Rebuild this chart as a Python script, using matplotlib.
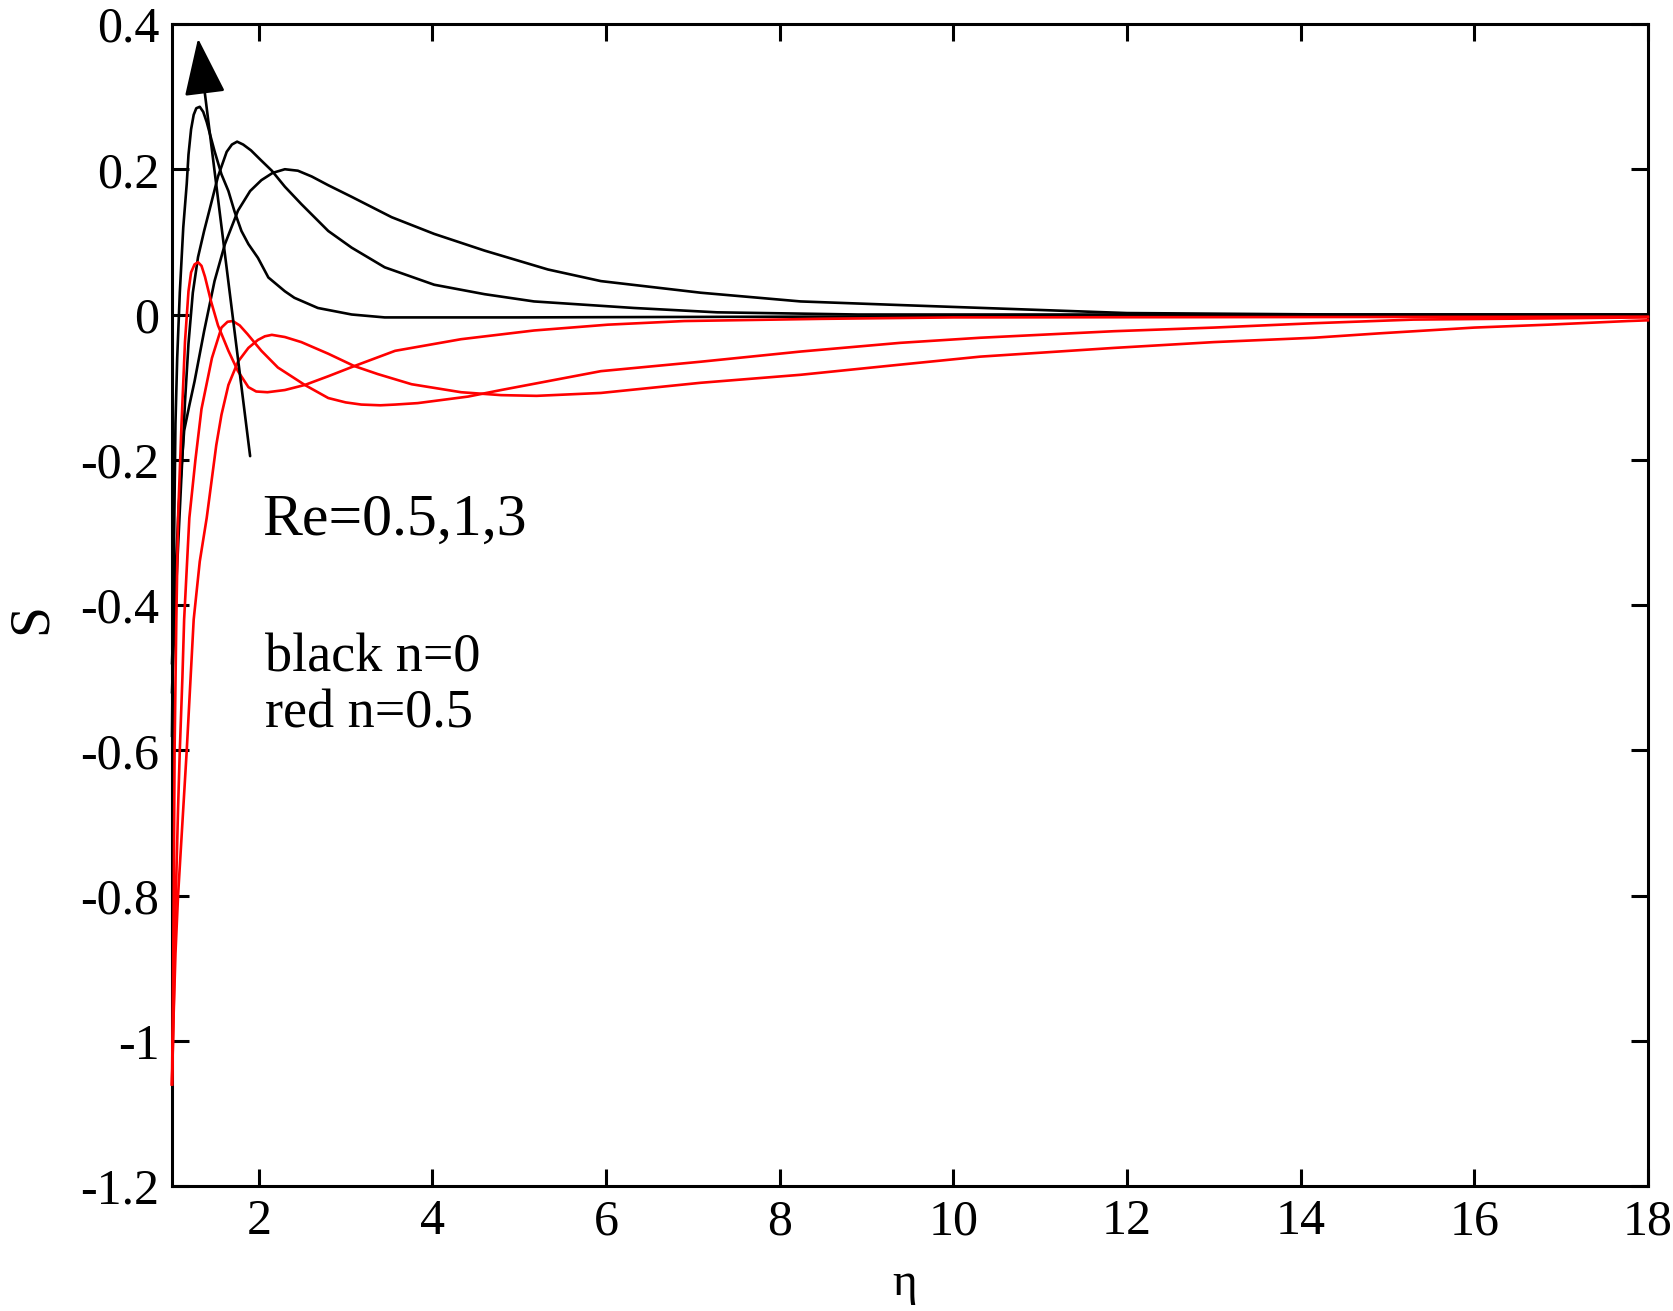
import matplotlib
matplotlib.use("Agg")
import matplotlib.pyplot as plt

# ---------------- data ----------------
# n = 0 (black), Re = 3, 1, 0.5
black_re3_x = [1.0, 1.02, 1.04, 1.06, 1.09, 1.13, 1.17, 1.19, 1.22, 1.25, 1.28, 1.32, 1.36, 1.40, 1.49, 1.57,
               1.65, 1.72, 1.80, 1.88, 1.99, 2.11, 2.30, 2.41, 2.68, 3.07, 3.45, 5.0, 8.0, 12.0, 18.0]
black_re3_y = [-0.58, -0.35, -0.15, -0.06, 0.03, 0.12, 0.18, 0.22, 0.255, 0.275, 0.284, 0.286, 0.279, 0.265, 0.225,
               0.193, 0.17, 0.142, 0.115, 0.097, 0.078, 0.051, 0.032, 0.023, 0.009, 0.0, -0.004, -0.004, -0.003,
               -0.002, -0.001]

black_re1_x = [1.0, 1.03, 1.07, 1.11, 1.15, 1.19, 1.24, 1.30, 1.37, 1.43, 1.53, 1.63, 1.69, 1.75, 1.82, 1.91,
               2.02, 2.15, 2.30, 2.49, 2.80, 3.07, 3.45, 4.02, 4.60, 5.17, 6.32, 7.28, 8.9, 12.0, 18.0]
black_re1_y = [-0.52, -0.42, -0.32, -0.22, -0.12, -0.04, 0.03, 0.079, 0.115, 0.143, 0.19, 0.224, 0.234, 0.238,
               0.234, 0.226, 0.213, 0.198, 0.176, 0.152, 0.115, 0.092, 0.065, 0.041, 0.028, 0.018, 0.009, 0.003,
               0.0, 0.0, 0.0]

black_re05_x = [1.0, 1.03, 1.08, 1.14, 1.20, 1.26, 1.37, 1.49, 1.61, 1.76, 1.90, 2.03, 2.16, 2.30, 2.45, 2.61,
                2.80, 3.07, 3.53, 4.02, 4.60, 5.33, 5.94, 7.09, 8.24, 9.39, 10.58, 12.0, 14.4, 18.0]
black_re05_y = [-0.48, -0.38, -0.26, -0.16, -0.125, -0.092, -0.023, 0.046, 0.097, 0.143, 0.170, 0.185, 0.195,
                0.200, 0.198, 0.19, 0.178, 0.162, 0.134, 0.111, 0.088, 0.062, 0.046, 0.030, 0.018, 0.013, 0.008,
                0.002, 0.0, 0.0]

# n = 0.5 (red), Re = 3, 1, 0.5
red_re3_x = [1.0, 1.01, 1.02, 1.03, 1.04, 1.05, 1.07, 1.11, 1.15, 1.19, 1.22, 1.26, 1.30, 1.34, 1.38, 1.45, 1.53,
             1.65, 1.76, 1.88, 1.97, 2.10, 2.30, 2.53, 2.80, 3.10, 3.57, 4.33, 5.17, 6.02, 6.9, 8.47, 10.0, 18.0]
red_re3_y = [-1.06, -0.95, -0.8, -0.6, -0.51, -0.42, -0.28, -0.15, -0.037, 0.032, 0.058, 0.069, 0.072, 0.067,
             0.052, 0.018, -0.015, -0.05, -0.078, -0.10, -0.106, -0.107, -0.104, -0.097, -0.085, -0.071, -0.05,
             -0.034, -0.022, -0.014, -0.009, -0.006, -0.004, -0.003]

red_re1_x = [1.0, 1.02, 1.04, 1.07, 1.09, 1.12, 1.14, 1.20, 1.27, 1.34, 1.46, 1.57, 1.64, 1.70, 1.78, 1.87,
             2.03, 2.22, 2.53, 2.80, 3.00, 3.18, 3.40, 3.57, 3.83, 4.41, 4.79, 5.94, 7.09, 8.24, 9.39, 10.31,
             11.85, 13.0, 14.15, 15.3, 18.0]
red_re1_y = [-1.06, -0.95, -0.82, -0.68, -0.6, -0.5, -0.42, -0.28, -0.2, -0.13, -0.06, -0.018, -0.01, -0.009,
             -0.015, -0.027, -0.05, -0.073, -0.097, -0.115, -0.121, -0.124, -0.125, -0.124, -0.122, -0.113,
             -0.104, -0.078, -0.065, -0.051, -0.039, -0.032, -0.023, -0.018, -0.012, -0.007, -0.004]

red_re05_x = [1.0, 1.02, 1.04, 1.07, 1.12, 1.17, 1.21, 1.25, 1.32, 1.40, 1.51, 1.57, 1.65, 1.76, 1.88, 1.99,
              2.07, 2.15, 2.30, 2.49, 2.80, 3.10, 3.37, 3.76, 4.33, 4.79, 5.2, 5.94, 7.09, 8.24, 9.39, 10.31,
              11.85, 13.0, 14.15, 14.9, 16.0, 16.85, 17.77, 18.0]
red_re05_y = [-1.06, -0.96, -0.88, -0.8, -0.7, -0.6, -0.51, -0.42, -0.34, -0.28, -0.18, -0.138, -0.097, -0.065,
              -0.046, -0.035, -0.030, -0.028, -0.031, -0.038, -0.054, -0.071, -0.082, -0.096, -0.107, -0.111,
              -0.112, -0.108, -0.094, -0.083, -0.069, -0.058, -0.046, -0.038, -0.032, -0.026, -0.018, -0.014,
              -0.009, -0.008]

x_ticks = [2, 4, 6, 8, 10, 12, 14, 16, 18]
x_tick_labels = ["2", "4", "6", "8", "10", "12", "14", "16", "18"]
y_ticks = [-1.2, -1.0, -0.8, -0.6, -0.4, -0.2, 0.0, 0.2, 0.4]
y_tick_labels = ["-1.2", "-1", "-0.8", "-0.6", "-0.4", "-0.2", "0", "0.2", "0.4"]

arrow_tail = (1.90, -0.195)
arrow_head = (1.30, 0.380)

# ---------------- figure ----------------
plt.rcParams['font.family'] = ['Liberation Serif', 'DejaVu Serif']

fig = plt.figure(figsize=(16.73, 13.11), dpi=100)
ax = fig.add_axes([0.1028, 0.0953, 0.8822, 0.8864])

lw = 1.9
for xs, ys in [(black_re3_x, black_re3_y), (black_re1_x, black_re1_y), (black_re05_x, black_re05_y)]:
    ax.plot(xs, ys, color='black', lw=lw, solid_joinstyle='round', zorder=3, clip_on=False)
for xs, ys in [(red_re3_x, red_re3_y), (red_re1_x, red_re1_y), (red_re05_x, red_re05_y)]:
    ax.plot(xs, ys, color='#ff0000', lw=lw, solid_joinstyle='round', zorder=3, clip_on=False)

ax.annotate("", xy=arrow_head, xytext=arrow_tail,
            arrowprops=dict(arrowstyle='-|>,head_length=36,head_width=13', mutation_scale=1,
                            color='black', lw=1.9, shrinkA=0, shrinkB=0))

ax.text(2.04, -0.303, "Re=0.5,1,3", fontsize=43, ha='left', va='baseline')
ax.text(2.07, -0.491, "black n=0", fontsize=39, ha='left', va='baseline')
ax.text(2.07, -0.569, "red n=0.5", fontsize=39, ha='left', va='baseline')

ax.set_xlim(1, 18)
ax.set_ylim(-1.2, 0.4)
ax.set_xticks(x_ticks)
ax.set_xticklabels(x_tick_labels)
ax.set_yticks(y_ticks)
ax.set_yticklabels(y_tick_labels)

ax.tick_params(direction='in', length=12, width=2.2, labelsize=36, pad=9,
               top=True, right=True)
for s in ax.spines.values():
    s.set_linewidth(2.2)

fig.text(32 / 1673, 1 - 619 / 1311, "S", rotation=90, fontsize=40, ha='center', va='center')
fig.text(905 / 1673, 1 - 1295 / 1311, "η", fontsize=34, ha='center', va='baseline')

fig.savefig("out.png", dpi=100, facecolor='white')
